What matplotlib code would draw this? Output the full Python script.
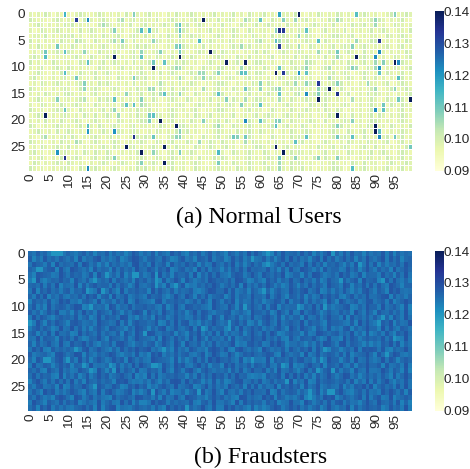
import numpy as np
import matplotlib
matplotlib.use('Agg')
import matplotlib.pyplot as plt
from matplotlib.transforms import ScaledTranslation
import seaborn as sns

plt.rcParams['font.family'] = ['Liberation Sans', 'DejaVu Sans']

# Pale background of panel (a), one digit per cell, eyeballed: the cells are too
# small to read one by one, so this is the look of the texture and not exact values
normal_rows = [
    "2121320212 1023211232 1212031221 2312102132 1232120231 2123120321 2312012213 2102132121 3212012321 2012311232",
    "3212102321 2120312123 2103212312 2213012321 2123102213 1232012312 2103213212 1231202132 2312102123 1320212310",
    "1232021213 2312120132 3212213012 3121232101 2312321021 3120132123 1232120312 2012321213 1021322312 2120132212",
    "2013212321 2103123212 1321201232 2123012132 3201212312 2123201321 2210323121 3212102312 2130212123 1232012213",
    "1221302123 2312012213 2123102321 3120213212 1232210123 2013212132 1203123212 2132102123 3212301212 2103212321",
    "3120212132 2123201321 2312120312 1203212213 2120312321 2132120213 3212012312 1232120321 2102132123 3212102132",
    "2132120312 1320212123 2012321232 3212012121 3212130212 1023212312 2120321321 2103212123 1232012321 2123102312",
    "1203212321 3212120132 2132012312 2123120213 2012321231 3212102123 1320123212 3212012132 2123210312 1320212132",
    "2321201212 1232013212 3120212321 1203212312 2132102123 2120321312 2123012213 1232120312 3201212321 2120132123",
    "3120213212 2103212123 1232120312 2321012132 3212012321 2012312123 3212102132 2123201213 1203212312 3212120321",
    "2123012321 3212120132 2012312123 1232102321 2120132213 3212012312 1320212123 2312012321 2123210132 1202132123",
    "1232102132 2013212312 3212102123 2120312321 1232012132 2120321213 3201212312 2132102123 1232012321 2103212312",
    "2312012123 1232120321 2103212132 3120212123 2013212321 1232102312 2120132123 3212012132 2123201321 3120212312",
    "1203212321 2123012132 3212120312 2012321213 1232102123 3210212132 2132012321 1203212123 2312102132 2123012321",
    "3212102123 2013212321 1232012132 2120321312 3212012123 1203212321 2123102132 3212012312 1320212123 2012321232",
    "2120321213 3212102312 2012132123 1232012321 2103212132 3120212312 1232120213 2012321321 2123012132 3212102123",
    "1232012312 2123210132 3201212123 2132012321 1320212312 2103212123 3212012132 1232102321 2120312123 2013212312",
    "2013212132 1232120321 2120312312 3212102123 2012321213 1232012132 3120212321 2103212312 1232012123 2120321321",
    "3212012321 2103212123 1320212132 2312012321 2123102123 3212012312 2013212132 1232120321 3201212123 2132102312",
    "1232102123 2120321312 3212012132 2013212321 1203212312 2123012123 1232102321 3212012132 2120312123 1320212321",
    "2120312132 1232012321 2103212123 3212012312 2132102123 1320212321 2312012132 2123210312 1232012123 3212102321",
    "3201212321 2123102132 1232012312 2120321123 3212012132 2013212321 2123102312 1320212123 2312012132 2120321213",
    "1232120312 3212012123 2013212321 1203212132 2312102123 2120312321 3212012132 1232102123 2103212312 3201212321",
    "2103212123 1320212321 2312012132 3212102312 2120132123 1232012321 2013212132 3212012123 1232120321 2123012312",
    "3212012132 2123102321 1232012123 2013212312 1320212321 3212012132 2120312123 2312102321 1203212132 2123012312",
    "1203212321 3120212123 2132012312 1232102132 2103212321 2312012123 3212102312 2012132123 1232012321 3120212132",
    "2312012123 2120321321 3201212132 2123102312 1232012123 2013212321 1320212132 3212012312 2103212123 1232102321",
    "2123102132 1232012312 3212012123 2013212321 2120312132 3201212312 1232102123 2120321321 3212012132 1203212312",
    "1320212321 3212102123 2012321132 1232012312 2123210123 1203212321 2312012132 3212102123 2120321312 2012321232",
    "3212012123 2103212321 1232012132 3120212312 2013212123 2120321321 1232102132 2312012123 3201212321 2123102312",
]
# Cells of panel (a) that stand out from the background: row, column, value
normal_rows_idx = [0,0,0,0,0,0, 1,1,1,1,1,1,1,1,1,1, 2,2,2,2, 3,3,3,3,3,3,3,3,3, 4,4,
                   5,5,5,5,5,5,5,5,5,5,5, 6,6,6,6,6,6,6, 7,7,7,7,7,7,7,7,7,7,
                   8,8,8,8,8,8,8, 9,9,9,9,9,9,9,9,9,9, 10,10,10,10,10,10,10,10,10,10,10]
normal_cols_idx = [9,27,65,70,85,95, 12,15,24,45,56,60,66,69,80,90, 19,38,39,90, 22,29,31,39,64,65,66,72,39, 39,70,
                   12,22,24,32,44,60,64,65,75,85,91, 7,38,39,55,65,70,84, 4,9,14,29,34,39,47,75,80,91,
                   4,22,29,39,80,85,90, 15,32,35,51,56,72,90,92,95,96, 32,38,39,55,65,72,78,84,85,91,90]
normal_vals_idx = [.115,.108,.118,.14,.113,.108, .133,.122,.105,.14,.105,.112,.108,.106,.106,.107, .105,.105,.112,.106,
                   .108,.113,.114,.112,.108,.135,.133,.112,.112, .107,.107,
                   .104,.105,.109,.107,.114,.104,.112,.106,.113,.106,.133, .11,.108,.112,.106,.133,.106,.108,
                   .11,.112,.107,.107,.108,.11,.14,.106,.11,.122,
                   .113,.14,.112,.14,.107,.14,.122, .112,.11,.112,.14,.14,.105,.106,.108,.14,.122,
                   .14,.106,.106,.106,.112,.107,.105,.108,.105,.121,.106]
normal_more = [
    (11,9,.113),(11,44,.106),(11,45,.106),(11,49,.108),(11,55,.112),(11,56,.112),(11,64,.14),(11,66,.133),(11,70,.121),(11,72,.112),(11,91,.112),
    (12,12,.11),(12,27,.109),(12,39,.106),(12,45,.107),(12,78,.105),(12,96,.113),
    (13,14,.108),(13,34,.104),(13,60,.108),(13,69,.106),(13,72,.107),(13,75,.133),(13,80,.108),(13,88,.106),
    (14,14,.107),(14,31,.106),(14,32,.106),(14,45,.105),(14,56,.11),(14,60,.107),(14,64,.105),(14,65,.108),(14,75,.107),(14,78,.14),(14,90,.106),(14,95,.107),
    (15,25,.107),(15,34,.105),(15,35,.112),(15,39,.107),(15,49,.112),(15,65,.112),(15,70,.104),(15,72,.122),(15,75,.108),(15,80,.135),
    (16,7,.108),(16,14,.104),(16,22,.112),(16,29,.108),(16,51,.108),(16,56,.105),(16,65,.105),(16,75,.14),(16,84,.105),(16,96,.11),(16,99,.14),
    (17,25,.112),(17,27,.112),(17,29,.105),(17,55,.108),(17,60,.112),(17,92,.11),
    (18,9,.111),(18,22,.107),(18,90,.122),(18,92,.112),
    (19,4,.14),(19,23,.106),(19,31,.11),(19,32,.112),(19,80,.14),
    (20,31,.109),(20,34,.14),(20,45,.108),(20,56,.122),(20,60,.112),(20,64,.108),(20,65,.108),(20,84,.108),
    (21,15,.112),(21,38,.14),(21,49,.106),(21,64,.112),(21,80,.108),(21,90,.14),
    (22,15,.12),(22,22,.121),(22,39,.108),(22,90,.14),(22,91,.112),
    (23,4,.105),(23,27,.135),(23,32,.111),(23,38,.107),(23,39,.108),(23,53,.11),(23,54,.108),(23,56,.11),(23,72,.112),(23,80,.11),(23,84,.112),(23,91,.122),(23,95,.11),
    (24,12,.105),(24,44,.106),(24,56,.105),(24,69,.112),
    (25,25,.14),(25,35,.14),(25,64,.14),(25,99,.11),
    (26,7,.121),(26,29,.14),(26,32,.107),(26,39,.109),(26,49,.114),(26,66,.14),
    (27,9,.135),(27,22,.108),(27,65,.11),(27,69,.107),(27,75,.108),(27,80,.108),
    (28,29,.108),(28,35,.14),(28,49,.109),(28,65,.106),
    (29,15,.122),(29,65,.106),(29,84,.113),
]

fraud_rows = [
    "5374625183 6425736154 7263514862 5371642857 3164725836 4175263948 5261738456 3847152694 6273845163 5482716354",
    "7152846375 3618254793 5247136985 2674385126 8351764925 6138472593 4726158394 7351682947 2584716395 3692847156",
    "3865271946 5482973615 1746352894 6293571846 4857162395 3749261584 6182573946 5293847165 7416285393 8162547396",
    "6423578194 2975361846 5183746295 4862759136 7351948265 1627483956 5483617294 3975261846 6238471595 2746193585",
    "4187652396 3756248195 7362815496 2485936175 5729163848 4316872595 2864759136 6173985246 3957248165 5284617393",
    "2793146585 6185372946 4927536185 7364182596 1852463975 6473985126 3185726494 5946271385 4273681956 7158394262",
    "5648273915 4391726856 6283751494 3576418295 8132647596 2574819363 7496251385 1638475296 5297164838 3842975166",
    "3917584626 7265841393 3841926575 6194853726 4572136985 5938246175 2861574396 4793581262 6384152795 2751968434",
    "6284915373 2547396816 7193582464 2856731495 3961748256 7148265395 5392684176 3716249585 7215836494 4689173526",
    "1756382496 8341675292 5627491385 4318926575 6247385196 2759163484 6145873926 5827364195 1963572488 3572814696",
    "4825193676 3698127545 1972548366 7563281494 2875643196 4396172585 3827916455 7164938252 4578126396 6293574181",
    "7361485922 5173946286 4285163797 1846295374 6159387425 5782463196 6471395282 2936851474 3746195285 1854736292",
    "2948631575 6482571393 7563982416 3619572484 5237486196 1864725393 4795281636 6183472595 5291846373 7346185294",
    "3295174864 1786345296 5349271686 6458127393 7824163595 3596847126 1684293575 4927563186 6532719484 2875916349",
    "2684751393 4937261585 2875416397 5163792484 3692851746 6147293585 7253684196 3964175282 4278163595 5193842763",
    "5716382944 6129475383 6437185296 2984365716 4175926382 8263471595 3849612575 5172398646 7364925181 3628417594",
    "4392765185 7384126594 1865372496 5427196384 6283951745 3718246596 5946372184 2765841393 3194862575 6483751293",
    "6173584293 2856947315 4728963156 3671485296 1954726383 5469132785 7238596144 6415273985 2893764151 4275938163",
    "3859217464 6412793585 3162847596 7935264183 5286341797 4821795364 1963547285 3759284616 5146392878 7382164594",
    "7245631896 3598174264 6973145282 4186925373 6732581496 2395147685 4687219535 6192483576 3728145695 1846597324",
    "5186423793 4629371585 2485719636 3297654181 5148372969 6574281393 3291756484 7845163296 6157293484 2493861575",
    "2934761585 7165829343 5817263949 6473185296 8326947155 1958364727 6483275191 3269548176 4832716595 5718346292",
    "6472185393 5238647195 1649375282 3756294186 2794168535 4617382595 5826193474 1593742686 7265184393 3496275181",
    "4837562191 6371482595 7246853913 1938246575 5162837496 7384956212 3175682949 4826173595 2598361474 6374182595",
    "1695273848 3926185474 6518794232 5274163898 3947615282 6125893474 8247365191 5391284676 4673815292 7269415383",
    "5278346191 2745963186 3486127595 7142685393 4681259373 5296471838 2634917585 7183592464 3815276949 1574628393",
    "3741968252 5863174292 7952368141 4869527133 6157382494 1843627595 5491283676 2637481595 6942157383 4285963717",
    "6385241797 4197258363 2184675398 5627183494 2976341585 7352198464 3968175242 5814263979 1475368292 6823914575",
    "2964175383 7581364292 5732948161 1395872646 5482167393 3641928575 6275813494 4196257383 7826341595 3954728161",
    "4718592636 3256847191 6891432575 4627319585 7163594282 2958463171 4136972585 8362571494 2549173686 5713846292",
]
# Lighter spots of panel (b): row, column
fraud_light = [
    (0,6),(0,7),(0,8),(3,2),(3,3),(4,20),(4,27),(4,28),(4,33),(5,33),(6,33),(5,1),(5,17),(6,38),
    (7,15),(7,19),(10,16),(13,0),(13,52),(14,52),(14,45),(15,30),(18,12),(18,35),(20,4),(20,5),
    (20,10),(21,32),(21,33),(21,14),(21,21),(22,16),(22,22),(25,17),(26,32),(26,44),(29,41),
    (0,62),(0,79),(1,58),(2,62),(2,86),(5,81),(5,92),(7,61),(10,56),(10,70),(10,77),(12,92),(13,91),
    (16,95),(18,77),(19,93),(20,58),(20,76),(21,66),(22,75),(22,79),(24,67),(26,73),(27,73),(26,78),(26,79),
]
cbar_ticks = [0.09, 0.10, 0.11, 0.12, 0.13, 0.14]
captions = ['(a) Normal Users', '(b) Fraudsters']

normal_levels = [0.0945, 0.0965, 0.0985, 0.1015]
normal = np.array([[normal_levels[int(c)] for c in r.replace(' ', '')] for r in normal_rows])
for r, c, v in zip(normal_rows_idx, normal_cols_idx, normal_vals_idx):
    normal[r, c] = v
for r, c, v in normal_more:
    normal[r, c] = v

fraud = np.array([[0.1225 + 0.0007 * int(c) for c in r.replace(' ', '')] for r in fraud_rows])
for r, c in fraud_light:
    fraud[r, c] = 0.1205

W, H = 470, 469
fig = plt.figure(figsize=(W / 100, H / 100), dpi=100)


def rect(x0, y0, x1, y1):
    # pixel box to figure fractions
    return [x0 / W, 1 - y1 / H, (x1 - x0) / W, (y1 - y0) / H]


def panel(data, top, bottom, lw):
    ax = fig.add_axes(rect(28, top, 411.7, bottom))
    cax = fig.add_axes(rect(435, top, 444, bottom))
    sns.heatmap(data, ax=ax, cbar_ax=cax, cmap='YlGnBu', vmin=0.09, vmax=0.14,
                linewidths=lw, linecolor='white', xticklabels=5, yticklabels=5,
                cbar_kws={'ticks': cbar_ticks, 'format': '%.2f'})
    ax.tick_params(length=0, labelsize=9.7, labelcolor='#262626', pad=2)
    ax.tick_params(axis='x', labelrotation=90)
    ax.tick_params(axis='y', labelrotation=0)
    cax.tick_params(length=0, labelsize=9.7, labelcolor='#262626', pad=0)
    ax.collections[0].colorbar.outline.set_visible(False)
    # labels sit about a pixel off the cell centres in the reference
    for lab in ax.get_yticklabels():
        lab.set_transform(lab.get_transform() + ScaledTranslation(0, -0.01, fig.dpi_scale_trans))
    for lab in ax.get_xticklabels():
        lab.set_transform(lab.get_transform() + ScaledTranslation(0.01, 0, fig.dpi_scale_trans))


panel(normal, 11.5, 170.7, 0.4)
panel(fraud, 251, 410.7, 0)

fig.text(259 / W, 1 - 217 / H, captions[0], family=['Liberation Serif', 'DejaVu Serif'],
         fontsize=17.2, ha='center', va='center', color='#000000')
fig.text(261 / W, 1 - 457 / H, captions[1], family=['Liberation Serif', 'DejaVu Serif'],
         fontsize=17.2, ha='center', va='center', color='#000000')

fig.savefig('out.png', dpi=100)
